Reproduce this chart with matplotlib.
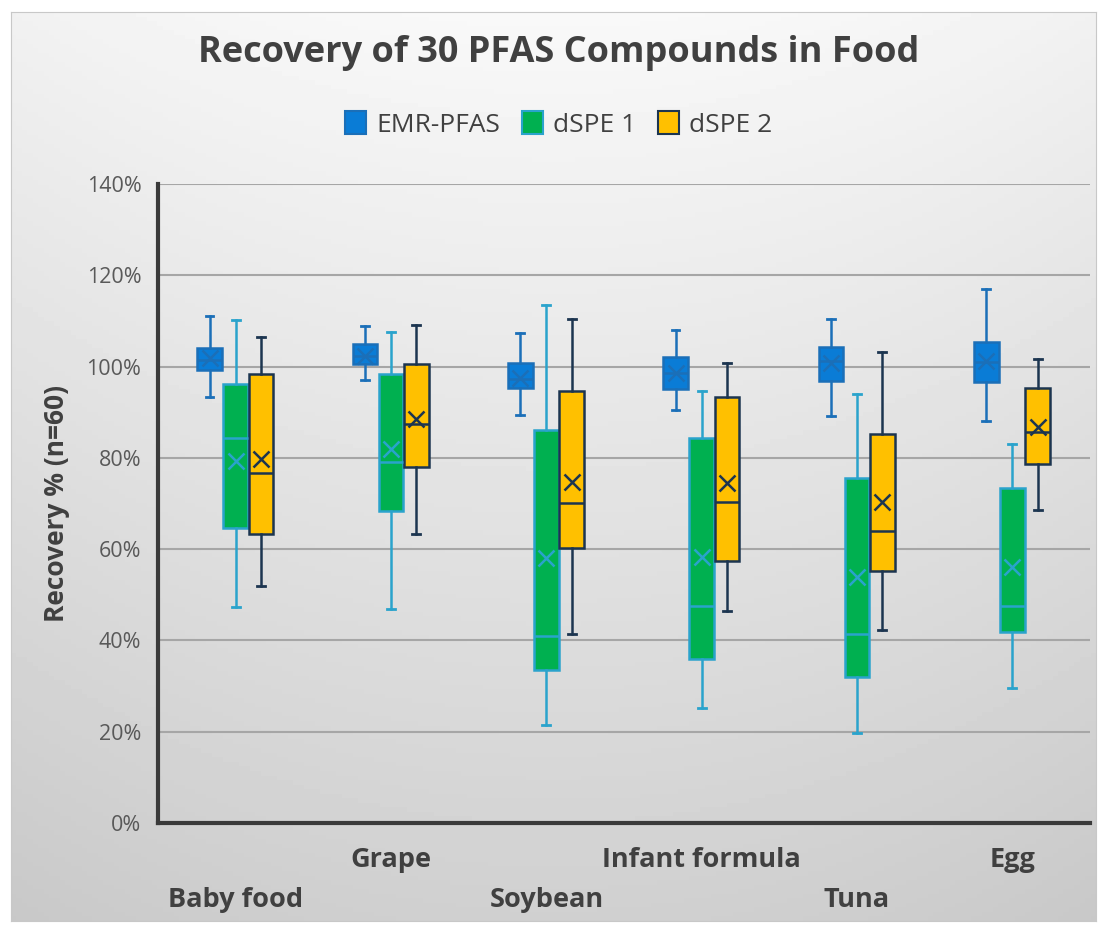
import matplotlib.pyplot as plt
import numpy as np

# Food matrices and extraction methods
foods = ['Baby food', 'Grape', 'Soybean', 'Infant formula', 'Tuna', 'Egg']
methods = ['EMR-PFAS', 'dSPE 1', 'dSPE 2']

# Box statistics (percent), one list per food
# order: whisker low, Q1, median, Q3, whisker high, mean
emr_stats = [
    [93.4, 99.2, 101.5, 104.1, 111.1, 101.8],
    [97.1, 100.5, 102.3, 105.0, 108.9, 102.4],
    [89.4, 95.2, 97.3, 100.8, 107.4, 97.6],
    [90.5, 95.0, 98.5, 102.1, 108.1, 98.5],
    [89.1, 96.9, 101.2, 104.3, 110.4, 100.8],
    [88.1, 96.6, 101.0, 105.4, 116.9, 101.2],
]
dspe1_stats = [
    [47.4, 64.6, 84.4, 96.2, 110.3, 79.3],
    [46.8, 68.3, 79.1, 98.4, 107.6, 81.9],
    [21.5, 33.5, 41.0, 86.1, 113.4, 58.0],
    [25.1, 35.9, 47.5, 84.4, 94.7, 58.3],
    [19.8, 31.9, 41.4, 75.6, 94.1, 53.9],
    [29.6, 41.9, 47.6, 73.3, 83.0, 56.1],
]
dspe2_stats = [
    [51.9, 63.4, 76.7, 98.4, 106.5, 79.8],
    [63.4, 78.0, 87.4, 100.5, 109.2, 88.6],
    [41.5, 60.3, 70.1, 94.6, 110.5, 74.7],
    [46.4, 57.4, 70.3, 93.3, 100.7, 74.4],
    [42.3, 55.2, 64.0, 85.3, 103.1, 70.3],
    [68.6, 78.6, 85.6, 95.2, 101.6, 86.7],
]

fill_colors = ['#0a7cd6', '#00b050', '#ffc000']
edge_colors = ['#1b6fb8', '#2aa3cc', '#1c3550']
offsets = [-0.168, 0.0, 0.163]

fig = plt.figure(figsize=(11, 9.26), dpi=100)
plt.rcParams['font.family'] = ['Open Sans', 'DejaVu Sans']

# gradient background panel
bg = fig.add_axes([11 / 1100, 1 - 921 / 926, 1085 / 1100, 909 / 926], zorder=0)
yy = np.linspace(0, 1, 200)[:, None]
xx = np.linspace(-1, 1, 200)[None, :]
shade = 0.975 - 0.16 * yy - 0.03 * xx ** 2
bg.imshow(shade, cmap='gray', vmin=0, vmax=1, aspect='auto', extent=[0, 1, 0, 1])
bg.set_xticks([])
bg.set_yticks([])
for s in bg.spines.values():
    s.set_color('#c8c8c8')
    s.set_linewidth(0.8)

ax = fig.add_axes([158 / 1100, 103 / 926, 932 / 1100, 639 / 926], zorder=1)
ax.patch.set_alpha(0)

all_stats = [emr_stats, dspe1_stats, dspe2_stats]
for k in range(3):
    stats = []
    for row in all_stats[k]:
        stats.append({'whislo': row[0], 'q1': row[1], 'med': row[2],
                      'q3': row[3], 'whishi': row[4], 'mean': row[5],
                      'fliers': []})
    pos = np.arange(len(foods)) + offsets[k]
    ec = edge_colors[k]
    ax.bxp(stats, positions=pos, widths=0.158, capwidths=0.05,
           patch_artist=True, showmeans=True, showfliers=False,
           boxprops=dict(facecolor=fill_colors[k], edgecolor=ec, linewidth=1.8),
           medianprops=dict(color=ec, linewidth=1.8),
           whiskerprops=dict(color=ec, linewidth=1.8),
           capprops=dict(color=ec, linewidth=2),
           meanprops=dict(marker='x', markersize=12, markeredgewidth=1.8,
                          markeredgecolor=ec),
           zorder=3)

ax.set_xlim(-0.5, 5.5)
ax.set_ylim(0, 140)
ax.set_yticks(np.arange(0, 141, 20))
ax.set_yticklabels([f'{v}%' for v in range(0, 141, 20)], fontsize=15.5, color='#595959')
ax.tick_params(axis='y', length=0, pad=12)
ax.set_xticks([])
ax.grid(axis='y', color='#a6a6a6', linewidth=1.5, zorder=0)
ax.set_axisbelow(True)
for side in ['top', 'right']:
    ax.spines[side].set_visible(False)
ax.spines['left'].set_color('#3a3a3a')
ax.spines['left'].set_linewidth(3)
ax.spines['bottom'].set_color('#3a3a3a')
ax.spines['bottom'].set_linewidth(3)

# staggered category labels
for i, name in enumerate(foods):
    ypos = -37 / 639 if i % 2 == 1 else -77 / 639
    ax.text(i, ypos, name, transform=ax.get_xaxis_transform(), ha='center',
            va='center', fontsize=19.5, fontweight='bold', color='#404040')

ax.set_ylabel('Recovery % (n=60)', fontsize=19, fontweight='bold', color='#404040',
              labelpad=12)

fig.text(0.508, 0.943, 'Recovery of 30 PFAS Compounds in Food', ha='center',
         va='center', fontsize=26, fontweight='bold', color='#404040')

# legend
handles = [plt.Rectangle((0, 0), 1, 1, facecolor=fill_colors[k],
                         edgecolor=edge_colors[k], linewidth=1.5) for k in range(3)]
fig.legend(handles, methods, loc='center', bbox_to_anchor=(0.508, 0.866), ncol=3,
           frameon=False, fontsize=19, handlelength=0.8, handleheight=1.0,
           handletextpad=0.4, columnspacing=0.8, labelcolor='#404040')

fig.savefig('out.png', dpi=100)
